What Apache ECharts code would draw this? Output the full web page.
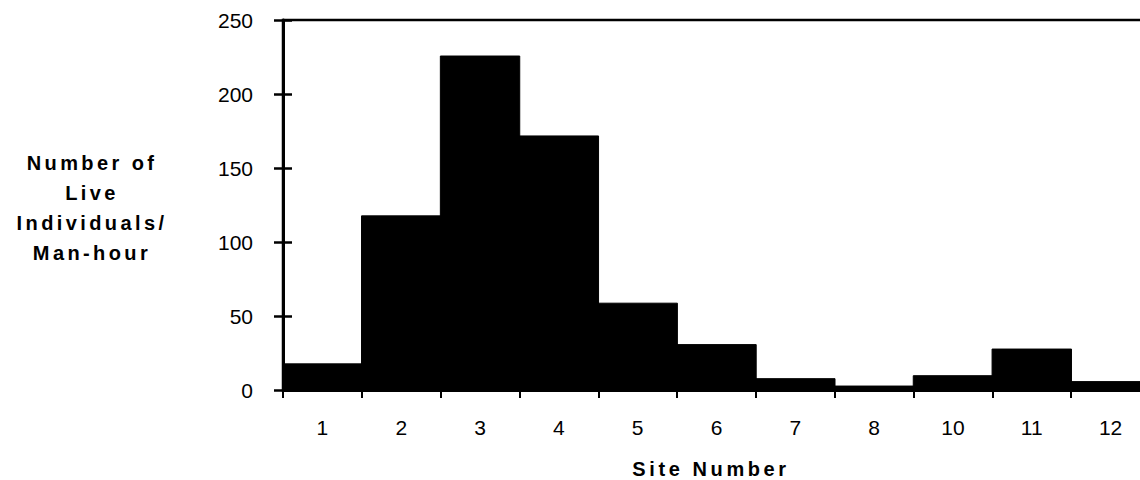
<!DOCTYPE html>
<html>
<head>
<meta charset="utf-8">
<script src="https://cdn.jsdelivr.net/npm/echarts@6/dist/echarts.min.js"></script>
<style>
html,body{margin:0;padding:0;background:#fff;overflow:hidden;}
#c{width:1150px;height:480px;}
</style>
</head>
<body>
<div id="c"></div>
<script>
const sites = ['1','2','3','4','5','6','7','8','10','11','12'];
const liveIndividualsPerManHour = [18, 118, 226, 172, 59, 31, 8, 3, 10, 28, 6];
const yTicks = { min: 0, max: 250, interval: 50 };
const yTitleLines = ['Number of', 'Live', 'Individuals/', 'Man-hour'];
const xTitle = 'Site Number';

const chart = echarts.init(document.getElementById('c'), null, { renderer: 'svg' });
const font = '"Liberation Sans", Arial, sans-serif';
const graphics = yTitleLines.map((t, i) => ({
  type: 'text', x: 92, y: 163 + i * 30,
  style: { text: t, fill: '#000', font: 'bold 20px ' + font, align: 'center', verticalAlign: 'middle', textAlign: 'center', textVerticalAlign: 'middle' }
}));
graphics.push({
  type: 'text', x: 711, y: 469,
  style: { text: xTitle, fill: '#000', font: 'bold 20px ' + font, align: 'center', verticalAlign: 'middle', textAlign: 'center', textVerticalAlign: 'middle' }
});
chart.setOption({
  animation: false,
  backgroundColor: '#fff',
  grid: { left: 283, right: 0, top: 20, bottom: 90, show: true, borderColor: '#000', borderWidth: 2.5, backgroundColor: 'transparent' },
  xAxis: {
    type: 'category', data: sites, boundaryGap: true,
    axisLine: { lineStyle: { color: '#000', width: 3 } },
    axisTick: { show: true, inside: false, length: 8, lineStyle: { color: '#000', width: 2 } },
    axisLabel: { color: '#000', fontSize: 21, fontFamily: font, margin: 27 },
    splitLine: { show: false }
  },
  yAxis: [{
    type: 'value', position: 'left', min: yTicks.min, max: yTicks.max, interval: yTicks.interval,
    axisLine: { show: true, lineStyle: { color: '#000', width: 3 } },
    axisTick: { show: true, inside: false, length: 9, lineStyle: { color: '#000', width: 2.5 } },
    axisLabel: { color: '#000', fontSize: 21, fontFamily: font, margin: 30 },
    splitLine: { show: false }
  }, {
    type: 'value', position: 'left', offset: 0, min: yTicks.min, max: yTicks.max, interval: yTicks.interval,
    axisLine: { show: false },
    axisTick: { show: true, inside: true, length: 9, lineStyle: { color: '#000', width: 2.5 } },
    axisLabel: { show: false },
    splitLine: { show: false }
  }],
  graphic: graphics,
  series: [{
    type: 'bar', data: liveIndividualsPerManHour, yAxisIndex: 0,
    barWidth: '102%', itemStyle: { color: '#000', borderColor: '#000', borderWidth: 1 }, silent: true
  }]
});

function spaceTitles() {
  const spaced = new Set(yTitleLines.concat([xTitle]));
  document.querySelectorAll('#c svg text').forEach(el => {
    if (spaced.has(el.textContent)) {
      const ls = el.textContent === xTitle ? 3.6 : 3.4;
      el.style.letterSpacing = ls + 'px';
      el.setAttribute('letter-spacing', ls + 'px');
    }
  });
}
chart.on('finished', spaceTitles);
spaceTitles();
</script>
</body>
</html>
